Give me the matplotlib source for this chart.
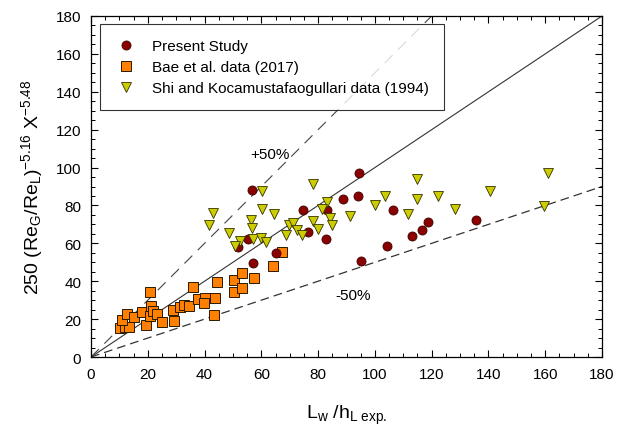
import matplotlib
matplotlib.use("Agg")
import matplotlib.pyplot as plt
from matplotlib.ticker import MultipleLocator

plt.rcParams['font.family'] = ['Liberation Sans', 'DejaVu Sans']
plt.rcParams['mathtext.fontset'] = 'custom'
plt.rcParams['mathtext.rm'] = 'Liberation Sans'
plt.rcParams['mathtext.it'] = 'Liberation Sans'

# Present study
present_x = [56.8, 94.5, 88.9, 93.9, 74.8, 83.0, 76.5, 82.7, 55.4, 51.7,
             65.3, 56.9, 95.0, 106.5, 135.5, 118.8, 116.5, 113.2, 104.1]
present_y = [88.3, 97.1, 83.4, 85.2, 77.8, 77.8, 66.2, 62.4, 62.4, 58.0,
             54.8, 49.8, 50.9, 77.8, 72.5, 71.1, 67.2, 63.7, 58.4]

# Bae et al. (2017)
bae_x = [10.2, 12.0, 13.5, 10.8, 12.6, 15.3, 17.8, 19.4, 20.8, 21.0, 21.9,
         23.4, 24.9, 20.8, 29.0, 29.3, 31.3, 32.9, 34.5, 36.0, 37.8, 40.2,
         39.9, 43.7, 43.4, 44.5, 50.4, 53.1, 50.5, 53.1, 57.5, 64.0, 67.4]
bae_y = [15.1, 15.6, 15.6, 19.7, 22.7, 21.0, 23.9, 16.9, 21.5, 27.1, 24.5,
         22.7, 18.6, 34.5, 25.0, 19.0, 26.2, 27.6, 27.1, 37.1, 30.6, 31.1,
         28.5, 31.1, 22.2, 39.4, 40.5, 44.1, 34.5, 36.3, 41.6, 48.2, 55.2]

# Shi and Kocamustafaogullari (1994)
shi_x = [60.1, 78.3, 42.9, 41.6, 60.1, 64.5, 56.2, 56.6, 48.7, 52.5, 50.7,
         57.2, 59.8, 61.6, 69.8, 71.3, 68.7, 72.4, 74.2, 78.3, 80.0, 83.0,
         81.3, 84.2, 84.8, 91.2, 100.0, 103.6, 111.8, 114.7, 114.7, 122.3,
         128.2, 140.5, 161.1, 159.7]
shi_y = [87.8, 91.3, 75.9, 69.7, 78.1, 75.3, 72.5, 67.9, 65.5, 61.4, 58.4,
         62.3, 62.7, 60.9, 69.7, 70.7, 64.4, 67.2, 64.4, 72.0, 67.6, 82.0,
         78.1, 73.2, 69.7, 74.2, 80.3, 84.8, 75.5, 94.0, 83.4, 84.8,
         78.1, 87.8, 97.1, 79.9]

ref_x = [0, 180]
band_upper = 1.5
band_lower = 0.5

fig = plt.figure(figsize=(6.42, 4.31), dpi=100)
ax = fig.add_axes([91 / 642, 1 - 358 / 431, 511 / 642, 341 / 431])

ax.plot(ref_x, ref_x, color='#333333', lw=0.8, zorder=1)
ax.plot(ref_x, [band_upper * v for v in ref_x], color='#444444', lw=0.8,
        dashes=(10, 7), zorder=1)
ax.plot(ref_x, [band_lower * v for v in ref_x], color='#333333', lw=0.9,
        dashes=(7, 4), zorder=1)

ax.plot(present_x, present_y, 'o', ms=6.5, mfc='#8B0000', mec='#3a0000',
        mew=0.6, ls='none', label='Present Study', zorder=3)
ax.plot(bae_x, bae_y, 's', ms=7, mfc='#FF8000', mec='#2a1a00',
        mew=0.7, ls='none', label='Bae et al. data (2017)', zorder=2)
ax.plot(shi_x, shi_y, 'v', ms=7.5, mfc='#CCCC00', mec='#333300',
        mew=0.6, ls='none', label='Shi and Kocamustafaogullari data (1994)',
        zorder=3)

ax.text(63, 107, '+50%', fontsize=11, ha='center', va='center')
ax.text(92.3, 32.7, '-50%', fontsize=11, ha='center', va='center')

ax.set_xlim(0, 180)
ax.set_ylim(0, 180)
ax.xaxis.set_major_locator(MultipleLocator(20))
ax.yaxis.set_major_locator(MultipleLocator(20))
ax.xaxis.set_minor_locator(MultipleLocator(5))
ax.yaxis.set_minor_locator(MultipleLocator(5))
ax.tick_params(which='both', direction='in', top=True, right=True,
               labelsize=11, colors='black')
ax.tick_params(which='major', length=5, width=0.8, pad=7)
ax.tick_params(which='minor', length=3, width=0.7)
for s in ax.spines.values():
    s.set_linewidth(0.9)

ax.set_xlabel(r'L$_{\mathrm{w}}$ /h$_{\mathrm{L\ exp.}}$', fontsize=14,
              labelpad=16)
ax.set_ylabel(r'250 (Re$_{\mathrm{G}}$/Re$_{\mathrm{L}}$)$^{-5.16}$ X$^{-5.48}$',
              fontsize=14, labelpad=8)

leg = ax.legend(loc='upper left', bbox_to_anchor=(0.017, 0.976), fontsize=11,
                frameon=True, fancybox=False, edgecolor='black',
                borderpad=1.0, handletextpad=0.9, labelspacing=0.45,
                borderaxespad=0, handlelength=1.5)
leg.get_frame().set_linewidth(0.8)

fig.savefig('out.png', dpi=100)
